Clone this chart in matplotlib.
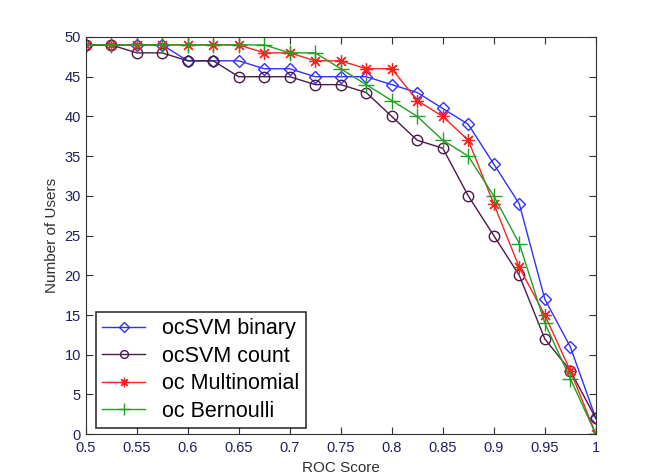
import matplotlib.pyplot as plt
import numpy as np

plt.rcParams['font.family'] = ['Liberation Sans', 'DejaVu Sans']

roc = [0.5, 0.525, 0.55, 0.575, 0.6, 0.625, 0.65, 0.675, 0.7, 0.725, 0.75,
       0.775, 0.8, 0.825, 0.85, 0.875, 0.9, 0.925, 0.95, 0.975, 1.0]
svm_binary = [49, 49, 49, 49, 47, 47, 47, 46, 46, 45, 45,
              45, 44, 43, 41, 39, 34, 29, 17, 11, 2]
svm_count = [49, 49, 48, 48, 47, 47, 45, 45, 45, 44, 44,
             43, 40, 37, 36, 30, 25, 20, 12, 8, 2]
oc_multinomial = [49, 49, 49, 49, 49, 49, 49, 48, 48, 47, 47,
                  46, 46, 42, 40, 37, 29, 21, 15, 8, 0]
oc_bernoulli = [49, 49, 49, 49, 49, 49, 49, 49, 48, 48, 46,
                44, 42, 40, 37, 35, 30, 24, 14, 7, 0]

fig = plt.figure(figsize=(6.54, 4.74), dpi=100)
ax = fig.add_axes([0.131, 0.084, 0.780, 0.838])

# MATLAB-like markers
ax.plot(roc, svm_binary, color='#3030ff', marker='D', ms=6.5, mfc='none',
        mew=1.0, lw=1.0, label='ocSVM binary')
ax.plot(roc, svm_count, color='#4a1a4a', marker='o', ms=7.5, mfc='none',
        mew=1.0, lw=1.0, label='ocSVM count')
ax.plot(roc, oc_multinomial, color='#ff2020', marker=(8, 2, 0), ms=9,
        mew=0.9, lw=1.0, label='oc Multinomial')
ax.plot(roc, oc_bernoulli, color='#20a020', marker='+', ms=11,
        mew=1.0, lw=1.0, label='oc Bernoulli')

ax.set_xlim(0.5, 1.0)
ax.set_ylim(0, 50)
ax.set_xticks(np.arange(0.5, 1.001, 0.05))
ax.set_xticklabels(['0.5', '0.55', '0.6', '0.65', '0.7', '0.75',
                    '0.8', '0.85', '0.9', '0.95', '1'])
ax.set_yticks(range(0, 51, 5))
ax.tick_params(direction='in', top=True, right=True, length=5,
               labelsize=10.5, labelcolor='#202060', color='#303030')
ax.tick_params(axis='x', pad=5)
for s in ax.spines.values():
    s.set_color('#303030')

ax.set_xlabel('ROC Score', fontsize=11, color='#303030', labelpad=4)
ax.set_ylabel('Number of Users', fontsize=11, color='#303030')

leg = ax.legend(loc='lower left', fontsize=15.5, frameon=True, fancybox=False,
                edgecolor='black', handlelength=2.0, borderpad=0.3,
                labelspacing=0.3, markerscale=0.75, borderaxespad=0,
                bbox_to_anchor=(0.0196, 0.015))
leg.get_frame().set_linewidth(1.2)

fig.savefig('out.png', dpi=100)
